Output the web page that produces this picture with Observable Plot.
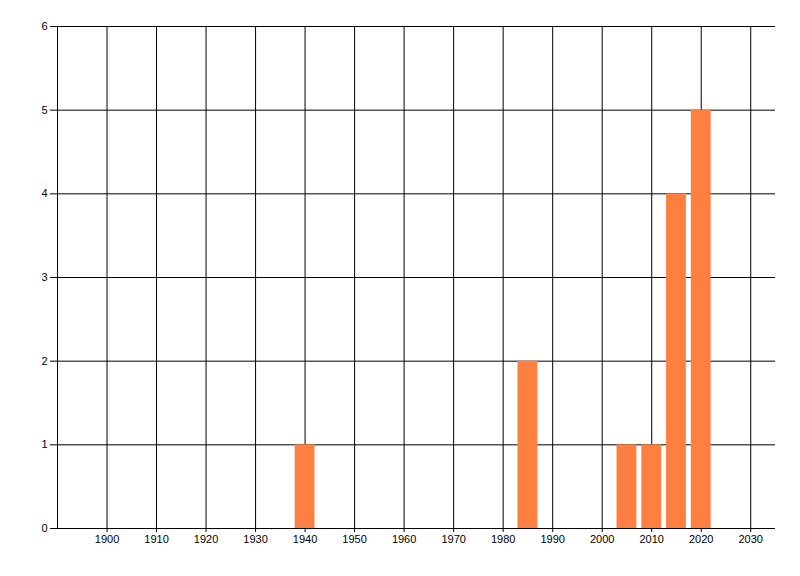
<!DOCTYPE html>
<html>
<head>
<meta charset="utf-8">
<script src="https://cdn.jsdelivr.net/npm/d3@7"></script>
<script src="https://cdn.jsdelivr.net/npm/@observablehq/plot@0.6"></script>
<style>
  html, body { margin: 0; padding: 0; background: #fff; }
  #chart svg { display: block; }
</style>
</head>
<body>
<div id="chart"></div>
<script>
const years = [1940, 1985, 2005, 2010, 2015, 2020];
const counts = [1, 2, 1, 1, 4, 5];
const xTicks = [1900, 1910, 1920, 1930, 1940, 1950, 1960, 1970, 1980, 1990, 2000, 2010, 2020, 2030];
const yTicks = [0, 1, 2, 3, 4, 5, 6];
const xDomain = [1890, 2035];
const yDomain = [0, 6];
const barHalfWidth = 2;
const barColor = "#ff7f41";

const data = years.map((y, i) => ({year: y, count: counts[i]}));

const chart = Plot.plot({
  width: 800,
  height: 576,
  marginLeft: 57,
  marginRight: 25,
  marginTop: 26,
  marginBottom: 48,
  style: {fontFamily: "'Liberation Sans', Arial, sans-serif", fontSize: "11px", color: "#000", background: "#fff"},
  x: {domain: xDomain},
  y: {domain: yDomain},
  marks: [
    Plot.ruleX(xTicks, {stroke: "#000", strokeWidth: 1, strokeOpacity: 1}),
    Plot.ruleY(yTicks.filter(d => d > 0), {stroke: "#000", strokeWidth: 1, strokeOpacity: 1}),
    Plot.rectY(data, {x1: d => d.year - barHalfWidth, x2: d => d.year + barHalfWidth, y: "count", fill: barColor}),
    Plot.ruleX([xDomain[0]], {stroke: "#000"}),
    Plot.ruleY([0], {stroke: "#000"}),
    Plot.axisX({ticks: xTicks, tickSize: 4, tickPadding: 3, tickFormat: d => String(d), label: null, stroke: "#000", fill: "#000"}),
    Plot.axisY({ticks: yTicks, tickSize: 7, tickPadding: 3, tickFormat: d => String(d), label: null, stroke: "#000", fill: "#000"})
  ]
});
document.getElementById("chart").appendChild(chart);
</script>
</body>
</html>
